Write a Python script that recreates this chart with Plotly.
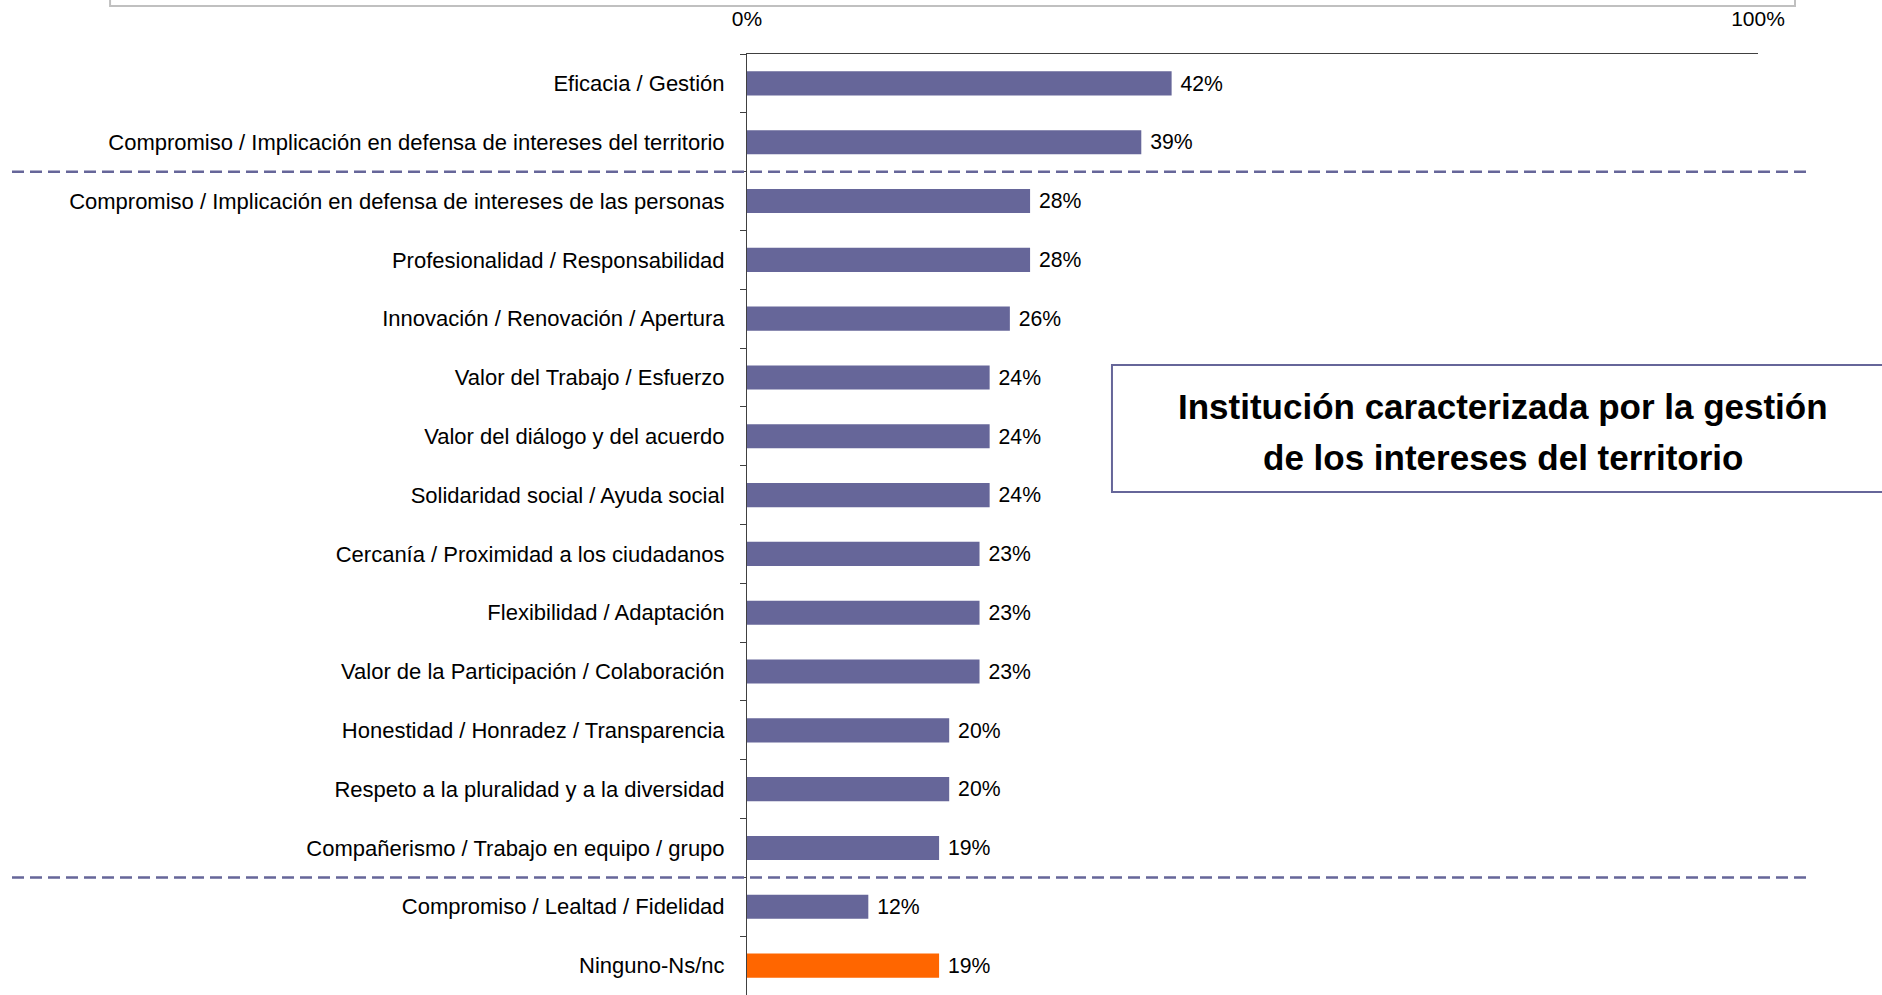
import plotly.graph_objects as go

categories = [
    "Eficacia / Gestión",
    "Compromiso / Implicación en defensa de intereses del territorio",
    "Compromiso / Implicación en defensa de intereses de las personas",
    "Profesionalidad / Responsabilidad",
    "Innovación / Renovación / Apertura",
    "Valor del Trabajo / Esfuerzo",
    "Valor del diálogo y del acuerdo",
    "Solidaridad social / Ayuda social",
    "Cercanía / Proximidad a los ciudadanos",
    "Flexibilidad / Adaptación",
    "Valor de la Participación / Colaboración",
    "Honestidad / Honradez / Transparencia",
    "Respeto a la pluralidad y a la diversidad",
    "Compañerismo / Trabajo en equipo / grupo",
    "Compromiso / Lealtad / Fidelidad",
    "Ninguno-Ns/nc",
]
values = [42, 39, 28, 28, 26, 24, 24, 24, 23, 23, 23, 20, 20, 19, 12, 19]
highlight = "Ninguno-Ns/nc"
tick_vals = [0, 100]
tick_text = ["0%", "100%"]
box_lines = ["Institución caracterizada por la gestión", "de los intereses del territorio"]

BLUE = "#666699"
ORANGE = "#ff6600"
FONT = "Liberation Sans, Arial, sans-serif"

colors = [ORANGE if c == highlight else BLUE for c in categories]

fig = go.Figure(go.Bar(
    x=values,
    y=categories,
    orientation="h",
    marker=dict(color=colors, line=dict(width=0)),
    width=0.41,
    text=[f" {v}%" for v in values],
    textposition="outside",
    textfont=dict(family=FONT, size=22, color="#000000"),
    cliponaxis=False,
    hoverinfo="skip",
))

fig.update_layout(
    width=1882, height=995,
    margin=dict(l=747, r=124, t=54, b=0, pad=0, autoexpand=False),
    paper_bgcolor="white", plot_bgcolor="white",
    showlegend=False,
    font=dict(family=FONT, size=22, color="#000000"),
    xaxis=dict(
        side="top", range=[0, 100], tickvals=tick_vals, ticktext=tick_text,
        showgrid=False, zeroline=False, showline=True, linecolor="#404040",
        linewidth=1, ticks="inside", ticklen=6, tickcolor="#404040",
        ticklabelstandoff=19, tickfont=dict(size=21), automargin=False,
    ),
    yaxis=dict(
        autorange="reversed", showgrid=False, zeroline=False, showline=True,
        linecolor="#404040", linewidth=1, ticks="outside", ticklen=6,
        tickcolor="#404040", tickson="boundaries", ticklabelstandoff=17,
        tickfont=dict(size=22), automargin=False,
    ),
    bargap=0.59,
)

shapes = []
for yb in (1.5, 13.5):
    shapes.append(dict(type="line", xref="paper", yref="y", x0=-0.727, x1=1.049,
                       y0=yb, y1=yb,
                       line=dict(color="#666699", width=2.5, dash="12px,6px"),
                       layer="above"))
# grey frame of the cut-off title box at the top
shapes.append(dict(type="rect", xref="paper", yref="paper", x0=-0.630, x1=1.0366,
                   y0=1.051, y1=1.3, line=dict(color="#c0c0c0", width=2),
                   fillcolor="rgba(0,0,0,0)"))
# highlight box
shapes.append(dict(type="rect", xref="paper", yref="paper", x0=0.361, x1=1.14,
                   y0=0.5345, y1=0.6695, line=dict(color="#666699", width=2),
                   fillcolor="white", layer="above"))
fig.update_layout(shapes=shapes)

for txt, yy in zip(box_lines, (0.6249, 0.5707)):
    fig.add_annotation(xref="paper", yref="paper", x=0.748, y=yy, text=txt,
                       xanchor="center", yanchor="middle",
                       showarrow=False, align="center",
                       font=dict(family=FONT, size=35, color="#000000", weight="bold"))

fig.write_html("out.html",
               config={"displayModeBar": False, "staticPlot": True},
               post_script="document.body.style.margin='0';document.body.style.overflow='hidden';")
